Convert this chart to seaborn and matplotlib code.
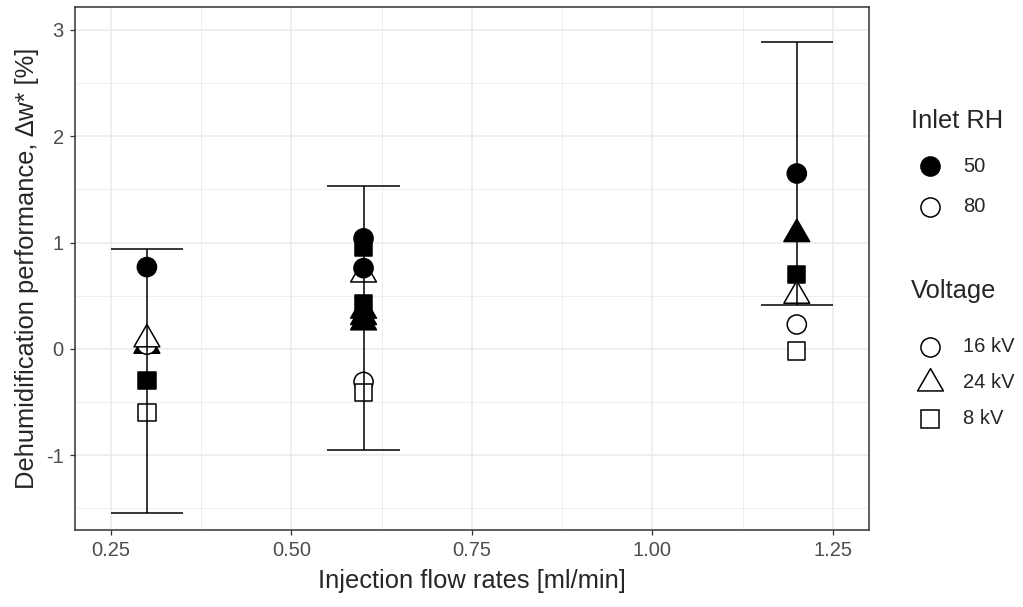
import matplotlib
matplotlib.use("Agg")
import matplotlib.pyplot as plt
import seaborn as sns
import pandas as pd
import numpy as np
from matplotlib.lines import Line2D
from matplotlib.path import Path
from matplotlib.ticker import MultipleLocator, FormatStrFormatter

# veriler
flow = [0.3] * 6 + [0.6] * 10 + [1.2] * 6
inlet_rh = ["50", "50", "50", "80", "80", "80",
            "80", "50", "50", "50", "50", "50", "50", "50", "80", "80",
            "50", "50", "50", "80", "80", "80"]
voltage = ["16 kV", "8 kV", "24 kV", "16 kV", "24 kV", "8 kV",
           "24 kV", "16 kV", "16 kV", "24 kV", "24 kV", "24 kV", "8 kV", "8 kV", "16 kV", "8 kV",
           "16 kV", "24 kV", "8 kV", "16 kV", "24 kV", "8 kV"]
dw = [0.77, -0.30, 0.03, 0.04, 0.09, -0.60,
      0.70, 1.04, 0.76, 0.25, 0.30, 0.36, 0.96, 0.43, -0.31, -0.41,
      1.65, 1.08, 0.70, 0.23, 0.50, -0.02]

# hata cubuklari
bar_flow = np.array([0.3, 0.6, 1.2])
bar_low = np.array([-1.545, -0.95, 0.41])
bar_high = np.array([0.94, 1.53, 2.887])
bar_width = 0.1

df = pd.DataFrame({"flow": flow, "rh": inlet_rh, "voltage": voltage, "dw": dw})

sns.set_style("white")
plt.rcParams["font.family"] = ["Liberation Sans", "DejaVu Sans"]
plt.rcParams["axes.unicode_minus"] = False

# kapali ucgen (ggplot tarzi)
tri = Path([(0, 1), (-0.866, -0.5), (0.866, -0.5), (0, 1)],
           [Path.MOVETO, Path.LINETO, Path.LINETO, Path.CLOSEPOLY])
marker_map = {"16 kV": "o", "24 kV": tri, "8 kV": "s"}
size_map = {"16 kV": 190, "24 kV": 460, "8 kV": 155}
fill_map = {"50": "black", "80": "white"}

title_fs = 18.4
text_fs = 14.5

fig, ax = plt.subplots(figsize=(10.23, 6.07), dpi=100)
fig.subplots_adjust(left=74.7 / 1023, right=869 / 1023, top=1 - 7 / 607, bottom=1 - 529.7 / 607)

sns.scatterplot(data=df, x="flow", y="dw", hue="rh", style="voltage", size="voltage",
                palette=fill_map, markers=marker_map, sizes=size_map,
                edgecolor="black", linewidth=1.1, legend=False, ax=ax, zorder=2)

ax.vlines(bar_flow, bar_low, bar_high, color="black", lw=1.1, zorder=3)
ax.hlines(bar_low, bar_flow - bar_width / 2, bar_flow + bar_width / 2, color="black", lw=1.1, zorder=3)
ax.hlines(bar_high, bar_flow - bar_width / 2, bar_flow + bar_width / 2, color="black", lw=1.1, zorder=3)

ax.set_xlim(0.2, 1.3)
ax.set_ylim(-1.70, 3.216)
ax.xaxis.set_major_locator(MultipleLocator(0.25))
ax.xaxis.set_minor_locator(MultipleLocator(0.125))
ax.yaxis.set_major_locator(MultipleLocator(1))
ax.yaxis.set_minor_locator(MultipleLocator(0.5))
ax.xaxis.set_major_formatter(FormatStrFormatter("%.2f"))
ax.yaxis.set_major_formatter(FormatStrFormatter("%d"))

ax.set_axisbelow(True)
ax.grid(which="major", color="#EBEBEB", lw=1.1)
ax.grid(which="minor", color="#EBEBEB", lw=0.6)
for s in ax.spines.values():
    s.set_color("#333333")
    s.set_linewidth(1.1)
ax.tick_params(which="major", length=3.8, width=0.9, color="#333333",
               labelcolor="#4D4D4D", labelsize=text_fs, pad=4, bottom=True, left=True)
ax.tick_params(which="minor", length=0, bottom=False, left=False)

ax.set_xlabel("Injection flow rates [ml/min]", fontsize=title_fs, labelpad=7)
ax.set_ylabel("Dehumidification performance, \u2206w* [%]", fontsize=title_fs, labelpad=5)


# legend (elle)
def px(x, y):
    return x / 1023, 1 - y / 607


def key(x, y, marker, s, face):
    fx, fy = px(x, y)
    fig.add_artist(Line2D([fx], [fy], marker=marker, markersize=np.sqrt(s), markerfacecolor=face,
                          markeredgecolor="black", markeredgewidth=1.1, linestyle="none",
                          transform=fig.transFigure))


fig.text(*px(911, 121), "Inlet RH", fontsize=title_fs, va="center", ha="left")
for lab, yy in zip(["50", "80"], [166, 207]):
    key(930, yy, "o", size_map["16 kV"], fill_map[lab])
    fig.text(*px(963, yy), lab, fontsize=text_fs, va="center", ha="left")

fig.text(*px(911, 291), "Voltage", fontsize=title_fs, va="center", ha="left")
for lab, yy in zip(["16 kV", "24 kV", "8 kV"], [347, 383, 419]):
    key(930, yy, marker_map[lab], size_map[lab], "white")
    fig.text(*px(963, yy), lab, fontsize=text_fs, va="center", ha="left")

fig.savefig("out.png", dpi=100)
